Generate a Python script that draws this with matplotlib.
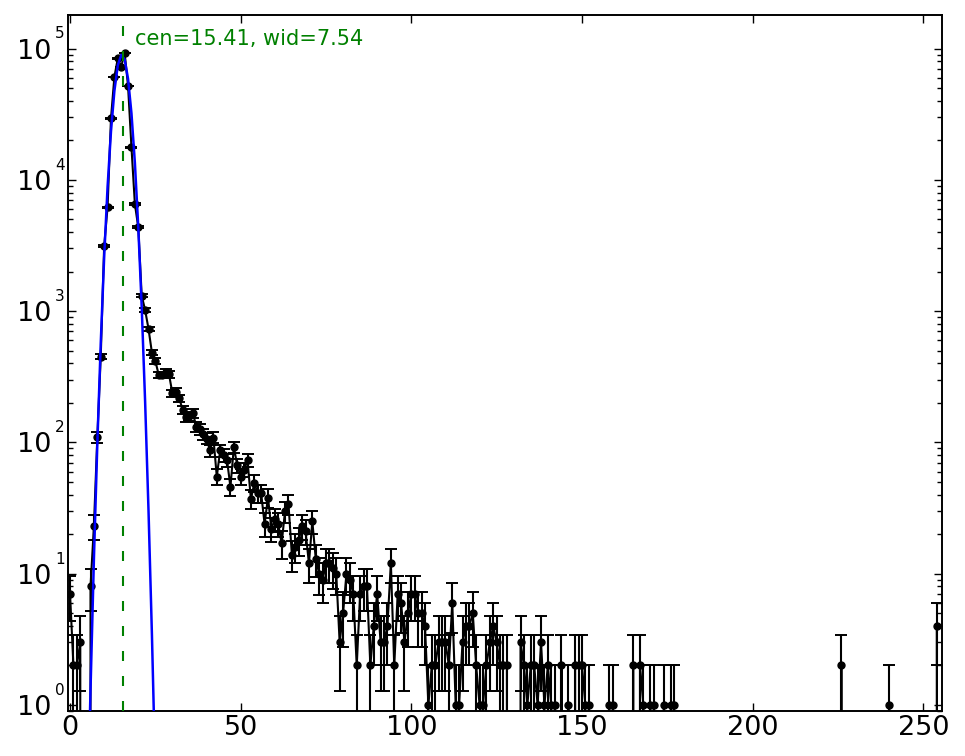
import numpy as np
import matplotlib
matplotlib.use('Agg')
import matplotlib.pyplot as plt
from matplotlib.ticker import LogLocator, NullFormatter

# non-empty channels of the spectrum and their counts
channels = list(range(0, 4)) + list(range(6, 129)) + [
    132, 133, 134, 135, 136, 137, 138, 139, 140, 141, 142, 144, 146, 148, 149,
    150, 151, 152, 158, 159, 165, 167, 168, 170, 171, 174, 176, 177, 226, 240, 254]
counts = [
    7, 2, 2, 3,
    8, 23, 110, 450, 3130, 6170, 29400, 61000, 84200, 72700, 93000, 51800,
    17700, 6550, 4350, 1310, 1020, 731, 482, 417, 326, 326, 346, 330, 237,
    243, 217, 177, 156, 159, 167, 132, 126, 116, 107, 87, 109, 55, 87, 80,
    73, 46, 92, 67, 55, 62, 73, 37, 49, 41, 41, 24, 38, 22, 26, 24, 17, 30,
    34, 14, 16, 18, 23, 21, 12, 25, 13, 10, 9, 12, 12, 11, 10, 3, 5, 10, 9,
    7, 2, 7, 8, 8, 2, 4, 7, 3, 3, 4, 12, 2, 7, 6, 3, 5, 7, 7, 5, 5, 4, 1,
    2, 2, 3, 3, 3, 2, 6, 1, 1, 3, 4, 4, 5, 2, 1, 1, 2, 3, 4, 3, 2, 2, 2,
    3, 2, 1, 2, 2, 1, 3, 1, 2, 1, 1, 2, 1, 2, 2,
    2, 1, 1, 1, 1, 2, 2, 1, 1, 1, 1, 1, 1, 2, 1, 4]

# fitted peak
fit_x = list(range(5, 27))
fit_y = [0.1, 1.3, 13, 98, 570, 2570, 8840, 23400, 47600, 74400, 89500,
         82700, 58800, 32100, 13500, 4340, 1080, 205, 30, 3.4, 0.29, 0.02]
fit_cen = 15.41
fit_wid = 7.54

n_channels = 256
x = np.arange(n_channels)
y = np.zeros(n_channels)
y[channels] = counts

green = (0, 0.5, 0)

fig = plt.figure(figsize=(9.65, 7.56), dpi=100)
ax = fig.add_axes([0.0708, 0.0595, 0.9054, 0.9206])
ax.set_yscale('log')

ax.errorbar(x, y, yerr=np.sqrt(y), fmt='o-', color='k', ms=5, lw=1.5,
            elinewidth=1.5, capsize=4.2, capthick=1.4)
ax.plot(fit_x, fit_y, color='b', lw=1.8, zorder=3)
ax.axvline(fit_cen, color=green, lw=1.5, dashes=(4.8, 7.2), zorder=4)
ax.text(19.0, 1.06e5, f'cen={fit_cen:.2f}, wid={fit_wid:.2f}', color=green,
        fontsize=15, va='baseline')

ax.set_xlim(-0.5, 255.5)
ax.set_ylim(0.9, 1.8e5)

# x axis
ax.set_xticks([0, 50, 100, 150, 200, 250])
ax.tick_params(axis='x', labelsize=19.5, pad=3)

# y axis: "10" labels with the exponent set apart, old style
decades = [0, 1, 2, 3, 4, 5]
ax.set_yticks([10.0 ** k for k in decades])
ax.set_yticklabels(['10'] * len(decades))
ax.yaxis.set_minor_locator(LogLocator(base=10, subs=range(2, 10)))
ax.yaxis.set_minor_formatter(NullFormatter())
ax.tick_params(axis='y', labelsize=19.5, pad=12)
for k in decades:
    ax.annotate(str(k), xy=(0, 10.0 ** k), xycoords=('axes fraction', 'data'),
                xytext=(-9.6, 10.5), textcoords='offset points', fontsize=11,
                ha='left', va='center', annotation_clip=False)

ax.tick_params(which='both', direction='in', top=True, right=True, width=1)
ax.tick_params(which='major', length=6)
ax.tick_params(which='minor', length=3.5)
for s in ax.spines.values():
    s.set_linewidth(1.4)

fig.savefig('out.png', dpi=100)
